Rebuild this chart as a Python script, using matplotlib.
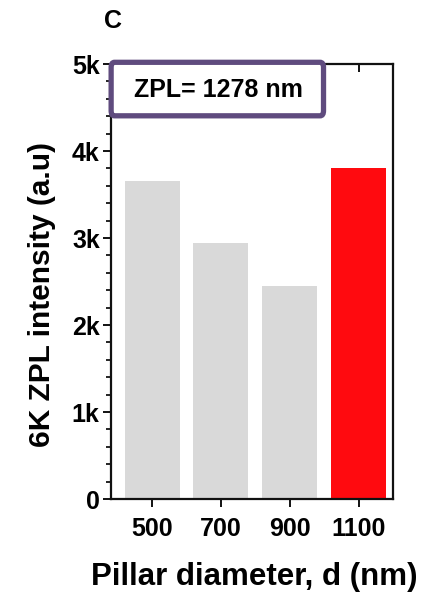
import matplotlib
matplotlib.use("Agg")
import matplotlib.pyplot as plt
from matplotlib.patches import FancyBboxPatch
from matplotlib.ticker import MultipleLocator

plt.rcParams['font.family'] = ['Liberation Sans', 'DejaVu Sans']
plt.rcParams['font.weight'] = 'bold'

diameters = [500, 700, 900, 1100]
intensity = [3650, 2940, 2450, 3800]
bar_colors = ['#d9d9d9', '#d9d9d9', '#d9d9d9', '#ff0a0f']
y_ticks = [0, 1000, 2000, 3000, 4000, 5000]
y_ticklabels = ['0', '1k', '2k', '3k', '4k', '5k']
x_ticklabels = ['500', '700', '900', '1100']

fig = plt.figure(figsize=(4.28, 5.93), dpi=100)
ax = fig.add_axes([0.259, 0.1585, 0.659, 0.7335])

ax.bar(diameters, intensity, width=160, color=bar_colors, zorder=2)

ax.set_xlim(380, 1200)
ax.set_ylim(0, 5000)
ax.set_xticks(diameters)
ax.set_xticklabels(x_ticklabels)
ax.set_yticks(y_ticks)
ax.set_yticklabels(y_ticklabels)
ax.yaxis.set_minor_locator(MultipleLocator(200))

for s in ax.spines.values():
    s.set_linewidth(1.6)
    s.set_color('#111111')

ax.tick_params(axis='both', which='major', labelsize=18, length=6, width=1.4,
               direction='out', color='#111111')
ax.tick_params(axis='x', which='major', pad=7)
ax.tick_params(axis='y', which='major', pad=2)
ax.tick_params(axis='y', which='minor', length=3.5, width=1.2, direction='out')
ax.tick_params(axis='x', which='both', top=True)
# top mirror ticks point inward
for t in ax.xaxis.get_major_ticks():
    t.tick2line.set_marker(3)  # TICKDOWN
    t.tick2line.set_markersize(6)

ax.set_ylabel('6K ZPL intensity (a.u)', fontsize=21.5, fontweight='bold')
ax.set_xlabel('Pillar diameter, d (nm)', fontsize=22.5, fontweight='bold')
ax.yaxis.set_label_coords(-0.195, 0.47)
ax.xaxis.set_label_coords(0.51, -0.145)

box = FancyBboxPatch((0.005, 0.885), 0.745, 0.115,
                     boxstyle='round,pad=0.004,rounding_size=0.012',
                     transform=ax.transAxes, facecolor='white',
                     edgecolor='#5f4b7e', linewidth=3.8, clip_on=False, zorder=5)
ax.add_patch(box)
ax.text(0.38, 0.94, 'ZPL= 1278 nm', transform=ax.transAxes, fontsize=18,
        fontweight='bold', ha='center', va='center', zorder=6)

fig.text(0.265, 0.965, 'C', fontsize=18, fontweight='bold', ha='center', va='center')

fig.savefig('out.png', dpi=100)
